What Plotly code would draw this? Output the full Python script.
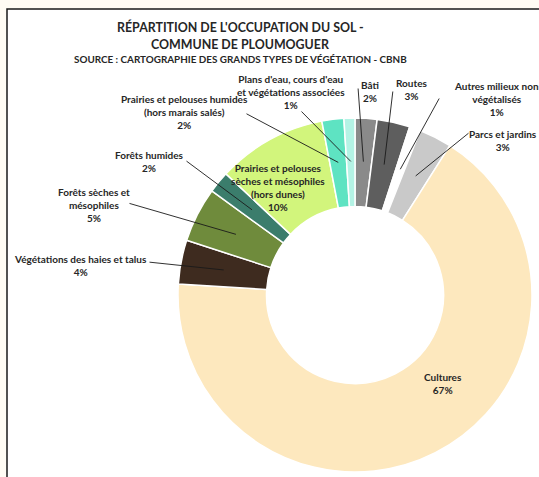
import math
import plotly.graph_objects as go

# ---- data ----
categories = [
    "Bâti", "Routes", "Autres milieux non végétalisés", "Parcs et jardins",
    "Cultures", "Végétations des haies et talus", "Forêts sèches et mésophiles",
    "Forêts humides", "Prairies et pelouses sèches et mésophiles (hors dunes)",
    "Prairies et pelouses humides (hors marais salés)",
    "Plans d'eau, cours d'eau et végétations associées",
]
values = [2, 3, 1, 3, 67, 4, 5, 2, 10, 2, 1]
label_lines = [
    "Bâti", "Routes", "Autres milieux non<br>végétalisés", "Parcs et jardins",
    "Cultures", "Végétations des haies et talus", "Forêts sèches et<br>mésophiles",
    "Forêts humides", "Prairies et pelouses<br>sèches et mésophiles<br>(hors dunes)",
    "Prairies et pelouses humides<br>(hors marais salés)",
    "Plans d'eau, cours d'eau<br>et végétations associées",
]
colors = ["#8a8a8a", "#5e5e5e", "#ffffff", "#c9c9c9", "#fde8be", "#3e2b1f",
          "#6f8b3c", "#3b7d6c", "#d2f57c", "#5ee3c2", "#b4f3e5"]

title_lines = ["RÉPARTITION DE L'OCCUPATION DU SOL -", "COMMUNE DE PLOUMOGUER"]
subtitle = "SOURCE : CARTOGRAPHIE DES GRANDS TYPES DE VÉGÉTATION - CBNB"

# ---- layout geometry (pixels) ----
W, H = 539, 477
CX, CY, R = 355, 295, 177
HOLE = 0.5
FONT = "Lato, Carlito, 'Open Sans', sans-serif"
TXT = "#262626"

# label centre positions and leader-line start points (None = inside label)
label_pos = [(370, 91), (412, 89), (496, 99), (503, 141), (443, 383), (80, 265),
             (94, 205), (149, 161), (278, 187), (184, 112), (291, 92)]
leader_start = [(358, 87), (393, 90), (440, 97), (470, 132), None, (148, 262),
                (128, 203), (185, 160), None, (245, 113), (300, 110)]

fig = go.Figure(go.Pie(
    labels=categories, values=values, sort=False, direction="clockwise",
    rotation=0, hole=HOLE, textinfo="none",
    marker=dict(colors=colors, line=dict(color="white", width=1.5)),
    domain=dict(x=[(CX - R) / W, (CX + R) / W], y=[1 - (CY + R) / H, 1 - (CY - R) / H]),
    showlegend=False,
))

def px2paper(x, y):
    return x / W, 1 - y / H

annotations = []
total = sum(values)
cum = 0
for i, v in enumerate(values):
    mid = (cum + v / 2) / total * 2 * math.pi
    cum += v
    tipx = CX + 0.755 * R * math.sin(mid)
    tipy = CY - 0.755 * R * math.cos(mid)
    text = "<b>%s<br>%d%%</b>" % (label_lines[i], v)
    lx, ly = label_pos[i]
    ax_, ay_ = px2paper(lx, ly)
    if leader_start[i] is not None:
        sx, sy = leader_start[i]
        tx, ty = px2paper(tipx, tipy)
        annotations.append(dict(x=tx, y=ty, xref="paper", yref="paper", text="",
                                showarrow=True, arrowhead=0, arrowwidth=0.9,
                                arrowcolor="#1a1a1a", axref="pixel", ayref="pixel",
                                ax=sx - tipx, ay=sy - tipy, standoff=0, startstandoff=0))
    annotations.append(dict(x=ax_, y=ay_, xref="paper", yref="paper", text=text,
                            xanchor="center", yanchor="middle",
                            showarrow=False, align="center",
                            font=dict(family=FONT, size=10, color=TXT)))

for txt, y, size in [(title_lines[0], 27, 12.4), (title_lines[1], 44, 12.4), (subtitle, 59, 9.9)]:
    annotations.append(dict(x=240 / W, y=1 - y / H, xref="paper", yref="paper",
                            xanchor="center", yanchor="middle",
                            text="<b>%s</b>" % txt, showarrow=False,
                            font=dict(family=FONT, size=size, color=TXT)))

fig.update_layout(
    width=W, height=H, margin=dict(l=0, r=0, t=0, b=0),
    paper_bgcolor="#fffcf4", plot_bgcolor="white",
    annotations=annotations,
    shapes=[dict(type="rect", xref="paper", yref="paper", x0=7 / W, x1=1.05,
                 y0=-0.05, y1=1 - 9 / H, fillcolor="white",
                 line=dict(color="#1a1a1a", width=1.5), layer="below")],
)

fig.write_html("out.html", config={"displayModeBar": False}, post_script=(
    "document.body.style.margin='0';"
    "document.documentElement.style.overflow='hidden';"
    "document.body.style.overflow='hidden';"))
